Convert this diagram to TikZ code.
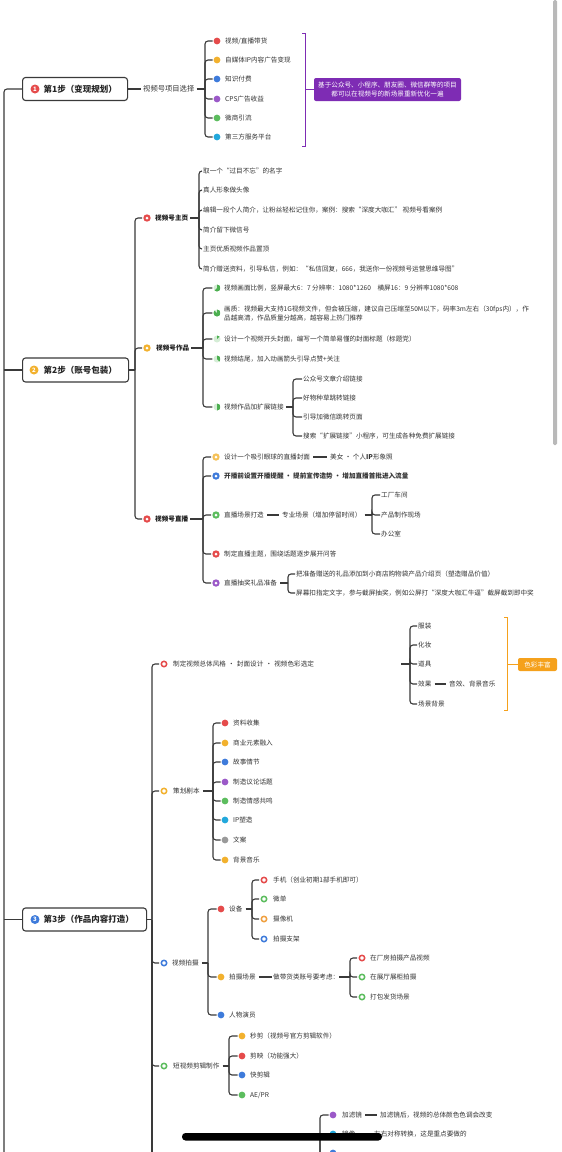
\documentclass[tikz,border=0pt]{standalone}
\usepackage{fontspec}
\setmainfont{Noto Sans CJK SC}
\definecolor{linec}{HTML}{3A3A3A}
\definecolor{txtc}{HTML}{333333}
\definecolor{cred}{HTML}{E54B4B}
\definecolor{cyel}{HTML}{F2B12E}
\definecolor{cblue}{HTML}{3E7BDB}
\definecolor{cpur}{HTML}{9B59C8}
\definecolor{cgreen}{HTML}{5CBD5E}
\definecolor{ccyan}{HTML}{22A8DC}
\definecolor{cgray}{HTML}{9A9A9A}
\definecolor{corng}{HTML}{F0A040}
\definecolor{cpurbox}{HTML}{7E2CB4}
\definecolor{corange}{HTML}{F5A11C}
\definecolor{pgreen}{HTML}{4CAF50}
\definecolor{pgreenl}{HTML}{D5EDD6}
\tikzset{
 conn/.style={draw=linec, line width=1.1pt, rounded corners=3pt},
 txt/.style={anchor=west, inner sep=0pt, text=txtc, font=\fontsize{6.6}{8.2}\selectfont},
 btxt/.style={anchor=west, inner sep=0pt, text=black!90, font=\fontsize{6.6}{8.2}\selectfont\bfseries},
 dot/.style={circle, fill=#1, minimum size=6.8pt, inner sep=0pt},
 ring/.style={circle, draw=#1, line width=1.5pt, fill=white, minimum size=5.4pt, inner sep=0pt},
 hicon/.style={circle, fill=#1, minimum size=7.4pt, inner sep=0pt, path picture={\fill[white] (path picture bounding box.center) circle (1.5pt);}},
 prog/.style={circle, fill=pgreenl, minimum size=7pt, inner sep=0pt, path picture={\fill[pgreen] (path picture bounding box.center) -- ++(0pt,3.6pt) arc[start angle=90, delta angle=-#1, radius=3.6pt] -- cycle;}},
 stepbox/.style={draw=linec, line width=1.1pt, rounded corners=3pt, minimum height=23pt, anchor=west, inner sep=0pt, fill=white},
 stepicon/.style={circle, fill=#1, minimum size=9pt, inner sep=0pt, text=white, font=\fontsize{6}{6}\selectfont\bfseries},
 steptxt/.style={anchor=west, inner sep=0pt, text=black!85, font=\fontsize{8.5}{10}\selectfont\bfseries},
 tagbox/.style={fill=#1, rounded corners=2pt, text=white, inner sep=0pt, align=center, font=\fontsize{6.6}{8.4}\selectfont},
 brk/.style={draw=#1, line width=0.9pt},
}
\begin{document}
\begin{tikzpicture}[x=1pt,y=-1pt]
\useasboundingbox (0,0) rectangle (562,1152);
\fill[white] (0,0) rectangle (562,1152);
\begin{scope}
\clip (0,0) rectangle (562,1152);

% ================= Step 1
\node[stepbox, minimum width=105pt] (s1) at (22,89) {};
\node[stepicon=cred] (s1i) at (35,89) {1};
\node[steptxt] (s1t) at (43.5,89) {第1步（变现规划）};
\coordinate (spinebot) at (4,1170);
\draw[conn] (s1.west) -| (spinebot);
\node[txt, font=\fontsize{7.3}{8}\selectfont] (p1) at (143,89) {视频号项目选择};
\draw[conn, shorten >=2pt] (s1.east) -- (p1.west);
\coordinate (j1) at (205,89);
\draw[conn, shorten <=2pt] (p1.east) -- (j1);
\foreach \y/\col/\lab [count=\i] in {41/cred/{视频/直播带货},60/cyel/{自媒体IP内容广告变现},79/cblue/{知识付费},99/cpur/{CPS广告收益},118/cgreen/{微商引流},137/ccyan/{第三方服务平台}}{
  \node[dot=\col] (a\i-d) at (217,\y) {};
  \node[txt] (a\i) at (225,\y) {\lab};
  \draw[conn, shorten >=0.8pt] (j1) |- (a\i-d.west);
}
\node[tagbox=cpurbox, minimum width=147pt, minimum height=23pt] (pbox) at (387.5,89.5) {基于公众号、小程序、朋友圈、微信群等的项目\\都可以在视频号的新场景重新优化一遍};
\draw[brk=cpurbox] (302,33) -- (305,33) -- (305,146) -- (302,146);
\draw[brk=cpurbox] (305,89.5) -- (pbox.west);

% ================= Step 2
\node[stepbox, minimum width=106pt, minimum height=24pt] (s2) at (22,370) {};
\node[stepicon=cyel] (s2i) at (34,370) {2};
\node[steptxt] (s2t) at (43.5,370) {第2步（账号包装）};
\coordinate (sp2) at (4,370);
\draw[conn] (sp2) -- (s2.west);
\coordinate (j2) at (135,370);
\draw[conn] (s2.east) -- (j2);
\node[hicon=cred] (h1i) at (147,218) {};
\node[btxt] (h1) at (155,218) {视频号主页};
\node[hicon=cyel] (h2i) at (147,348) {};
\node[btxt] (h2) at (156,348) {视频号作品};
\node[hicon=cred] (h3i) at (147,519) {};
\node[btxt] (h3) at (155,519) {视频号直播};
\draw[conn, shorten >=1pt] (j2) |- (h1i.west);
\draw[conn, shorten >=1pt] (j2) |- (h2i.west);
\draw[conn, shorten >=1pt] (j2) |- (h3i.west);

% --- 视频号主页
\coordinate (j21) at (199,218);
\draw[conn, shorten <=2pt] (h1.east) -- (j21);
\foreach \y/\lab [count=\i] in {171/{取一个“过目不忘”的名字},190/{真人形象做头像},210/{编辑一段个人简介，让粉丝轻松记住你，案例：搜索“深度大咖汇” 视频号看案例},230/{简介留下微信号},249/{主页优质视频作品置顶},269/{简介赠送资料，引导私信，例如：“私信回复，666，我送你一份视频号运营思维导图”}}{
  \node[txt] (b\i) at (203,\y) {\lab};
  \draw[conn, shorten >=1pt] (j21) |- (b\i.west);
}

% --- 视频号作品
\coordinate (j22) at (203,348);
\draw[conn, shorten <=2pt] (h2.east) -- (j22);
\node[prog=225] (c1-d) at (217,288) {};
\node[txt] (c1) at (224,288) {视频画面比例，竖屏最大6：7 分辨率：1080*1260\quad 横屏16：9 分辨率1080*608};
\node[prog=315] (c2-d) at (217,313) {};
\node[txt, align=left, font=\fontsize{6.6}{9}\selectfont] (c2) at (224,313.5) {画质：视频最大支持1G视频文件，但会被压缩，建议自己压缩至50M以下，码率3m左右（30fps内），作\\品越高清，作品质量分越高，越容易上热门推荐};
\node[prog=45] (c3-d) at (217,339) {};
\node[txt] (c3) at (224,339) {设计一个视频开头封面，编写一个简单易懂的封面标题（标题党）};
\node[prog=135] (c4-d) at (217,359) {};
\node[txt] (c4) at (224,359) {视频结尾，加入动画箭头引导点赞+关注};
\node[prog=180] (c5-d) at (217,407) {};
\node[txt] (c5) at (224,407) {视频作品加扩展链接};
\foreach \i in {1,...,5}{\draw[conn, shorten >=1pt] (j22) |- (c\i-d.west);}
\coordinate (j221) at (293,407);
\draw[conn, shorten <=2pt] (c5.east) -- (j221);
\foreach \y/\lab [count=\i] in {379/{公众号文章介绍链接},398/{好物种草跳转链接},417/{引导加微信跳转页面},436/{搜索“扩展链接”小程序，可生成各种免费扩展链接}}{
  \node[txt] (c5-\i) at (303,\y) {\lab};
  \draw[conn, shorten >=1pt] (j221) |- (c5-\i.west);
}

% --- 视频号直播
\coordinate (j23) at (203,519);
\draw[conn, shorten <=2pt] (h3.east) -- (j23);
\node[hicon=cyel!80] (d1-d) at (216,457) {};
\node[txt] (d1) at (224,457) {设计一个吸引眼球的直播封面};
\node[hicon=cblue] (d2-d) at (216,476) {};
\node[txt, font=\fontsize{6.6}{8.2}\selectfont\bfseries] (d2) at (224,476) {开播前设置开播提醒 · 提前宣传造势 · 增加直播首批进入流量};
\node[hicon=cgreen] (d3-d) at (216,515) {};
\node[txt] (d3) at (224,515) {直播场景打造};
\node[hicon=cred] (d4-d) at (216,554) {};
\node[txt] (d4) at (224,554) {制定直播主题，围绕话题逐步展开问答};
\node[hicon=cpur] (d5-d) at (216,583) {};
\node[txt] (d5) at (224,583) {直播抽奖礼品准备};
\foreach \i in {1,...,5}{\draw[conn, shorten >=1pt] (j23) |- (d\i-d.west);}
\node[txt] (e1) at (330,457) {美女 · 个人\textbf{IP}形象照};
\draw[conn, shorten <=3pt, shorten >=3pt] (d1.east) -- (e1.west);
\node[txt] (e3) at (282,515) {专业场景（增加停留时间）};
\draw[conn, shorten <=3pt, shorten >=3pt] (d3.east) -- (e3.west);
\coordinate (j2331) at (372,515);
\draw[conn, shorten <=3pt] (e3.east) -- (j2331);
\foreach \y/\lab [count=\i] in {495/{工厂车间},515/{产品制作现场},534/{办公室}}{
  \node[txt] (e3-\i) at (381,\y) {\lab};
  \draw[conn, shorten >=1pt] (j2331) |- (e3-\i.west);
}
\coordinate (j2351) at (288,583);
\draw[conn, shorten <=3pt] (d5.east) -- (j2351);
\node[txt] (e5-1) at (296,574) {把准备赠送的礼品添加到小商店购物袋产品介绍页（塑造赠品价值）};
\node[txt] (e5-2) at (296,593) {屏幕扣指定文字，参与截屏抽奖，例如公屏打“深度大咖汇牛逼”截屏截到即中奖};
\draw[conn, shorten >=1pt] (j2351) |- (e5-1.west);
\draw[conn, shorten >=1pt] (j2351) |- (e5-2.west);

% ================= Step 3
\node[stepbox, minimum width=124pt] (s3) at (22,919.5) {};
\node[stepicon=cblue] (s3i) at (35,919.5) {3};
\node[steptxt] (s3t) at (43.5,919.5) {第3步（作品内容打造）};
\coordinate (sp3) at (4,919.5);
\draw[conn] (sp3) -- (s3.west);
\coordinate (j3) at (152,919.5);
\coordinate (j3b) at (152,1170);
\draw[conn] (s3.east) -- (j3);
\draw[conn] (j3) -- (j3b);
\node[ring=cred] (t1-d) at (164,664) {};
\node[txt, text width=228pt] (t1) at (173,664) {制定视频总体风格 ・ 封面设计 ・ 视频色彩选定};
\node[ring=cyel] (t2-d) at (164,791) {};
\node[txt] (t2) at (173,791) {策划剧本};
\node[ring=cblue] (t3-d) at (164,963) {};
\node[txt] (t3) at (172,963) {视频拍摄};
\node[ring=cgreen] (t4-d) at (164,1066) {};
\node[txt] (t4) at (173,1066) {短视频剪辑制作};
\foreach \i in {1,...,4}{\draw[conn, shorten >=1.5pt] (j3) |- (t\i-d.west);}

% --- 制定视频总体风格
\coordinate (j31) at (410,664);
\draw[conn] (t1.east) -- (j31);
\foreach \y/\lab [count=\i] in {626/{服装},645/{化妆},664/{道具},684/{效果},704/{场景背景}}{
  \node[txt] (u\i) at (418,\y) {\lab};
  \draw[conn, shorten >=1pt] (j31) |- (u\i.west);
}
\node[txt] (u4-1) at (449,684) {音效、背景音乐};
\draw[conn, shorten <=3pt, shorten >=3pt] (u4.east) -- (u4-1.west);
\node[tagbox=corange, minimum width=39pt, minimum height=13pt] (obox) at (537.5,664.5) {色彩丰富};
\draw[brk=corange] (504,617) -- (507,617) -- (507,710) -- (504,710);
\draw[brk=corange] (507,664.5) -- (obox.west);

% --- 策划剧本
\coordinate (j32) at (213,791);
\draw[conn, shorten <=3pt] (t2.east) -- (j32);
\foreach \y/\col/\lab [count=\i] in {723/cred/{资料收集},743/cyel/{商业元素融入},762/cblue/{故事情节},782/cpur/{制造议论话题},801/cgreen/{制造情感共鸣},820/ccyan/{IP塑造},840/cgray/{文案},860/cyel/{背景音乐}}{
  \node[dot=\col] (v\i-d) at (225,\y) {};
  \node[txt] (v\i) at (233,\y) {\lab};
  \draw[conn, shorten >=0.8pt] (j32) |- (v\i-d.west);
}

% --- 视频拍摄
\coordinate (j33) at (208,963);
\draw[conn, shorten <=3pt] (t3.east) -- (j33);
\node[dot=cred] (w1-d) at (221,909) {};
\node[txt] (w1) at (229,909) {设备};
\node[dot=cyel] (w2-d) at (221,977) {};
\node[txt] (w2) at (229,977) {拍摄场景};
\node[dot=cblue] (w3-d) at (221,1015) {};
\node[txt] (w3) at (229,1015) {人物演员};
\foreach \i in {1,2,3}{\draw[conn, shorten >=0.8pt] (j33) |- (w\i-d.west);}
\coordinate (j331) at (252,909);
\draw[conn, shorten <=3pt] (w1.east) -- (j331);
\foreach \y/\col/\lab [count=\i] in {880/cred/{手机（创业初期1部手机即可）},899/cgreen/{微单},919/corng/{摄像机},939/cblue/{拍摄支架}}{
  \node[ring=\col] (w1-\i-d) at (264,\y) {};
  \node[txt] (w1-\i) at (273,\y) {\lab};
  \draw[conn, shorten >=1.5pt] (j331) |- (w1-\i-d.west);
}
\node[txt] (w2-1) at (273,977) {做带货类账号要考虑：};
\draw[conn, shorten <=3pt, shorten >=1pt] (w2.east) -- (w2-1.west);
\coordinate (j332) at (350,977);
\draw[conn] (w2-1.east) -- (j332);
\foreach \y/\col/\lab [count=\i] in {958/cred/{在厂房拍摄产品视频},977/cgreen/{在展厅展柜拍摄},997/cgreen/{打包发货场景}}{
  \node[ring=\col] (w2-\i-d) at (362,\y) {};
  \node[txt] (w2-1-\i) at (370,\y) {\lab};
  \draw[conn, shorten >=1.5pt] (j332) |- (w2-\i-d.west);
}

% --- 短视频剪辑制作
\coordinate (j34) at (229,1066);
\draw[conn, shorten <=3pt] (t4.east) -- (j34);
\foreach \y/\col/\lab [count=\i] in {1036/cyel/{秒剪（视频号官方剪辑软件）},1056/cred/{剪映（功能强大）},1075/cblue/{快剪辑},1095/cgreen/{AE/PR}}{
  \node[dot=\col] (x\i-d) at (242,\y) {};
  \node[txt] (x\i) at (250,\y) {\lab};
  \draw[conn, shorten >=0.8pt] (j34) |- (x\i-d.west);
}

% --- next group (parent below the view)
\coordinate (j35) at (320,1170);
\node[dot=cpur] (y1-d) at (333,1115) {};
\node[txt] (y1) at (342,1115) {加滤镜};
\node[dot=ccyan] (y2-d) at (333,1134) {};
\node[txt] (y2) at (342,1134) {镜像};
\node[dot=cblue] (y3-d) at (333,1153) {};
\foreach \i in {1,2,3}{\draw[conn, shorten >=0.8pt] (j35) |- (y\i-d.west);}
\node[txt] (y1-1) at (380,1115) {加滤镜后，视频的总体颜色色调会改变};
\draw[conn, shorten <=3pt, shorten >=3pt] (y1.east) -- (y1-1.west);
\node[txt] (y2-1) at (374,1134) {左右对称转换，这是重点要做的};
\draw[conn, shorten <=3pt, shorten >=3pt] (y2.east) -- (y2-1.west);

% ---- phone overlay: scroll bar and home indicator
\fill[gray!55, rounded corners=1.5pt] (553,0) rectangle (557,445);
\fill[black, rounded corners=3.5pt] (182,1133) rectangle (382,1140.5);
\end{scope}
\end{tikzpicture}
\end{document}
